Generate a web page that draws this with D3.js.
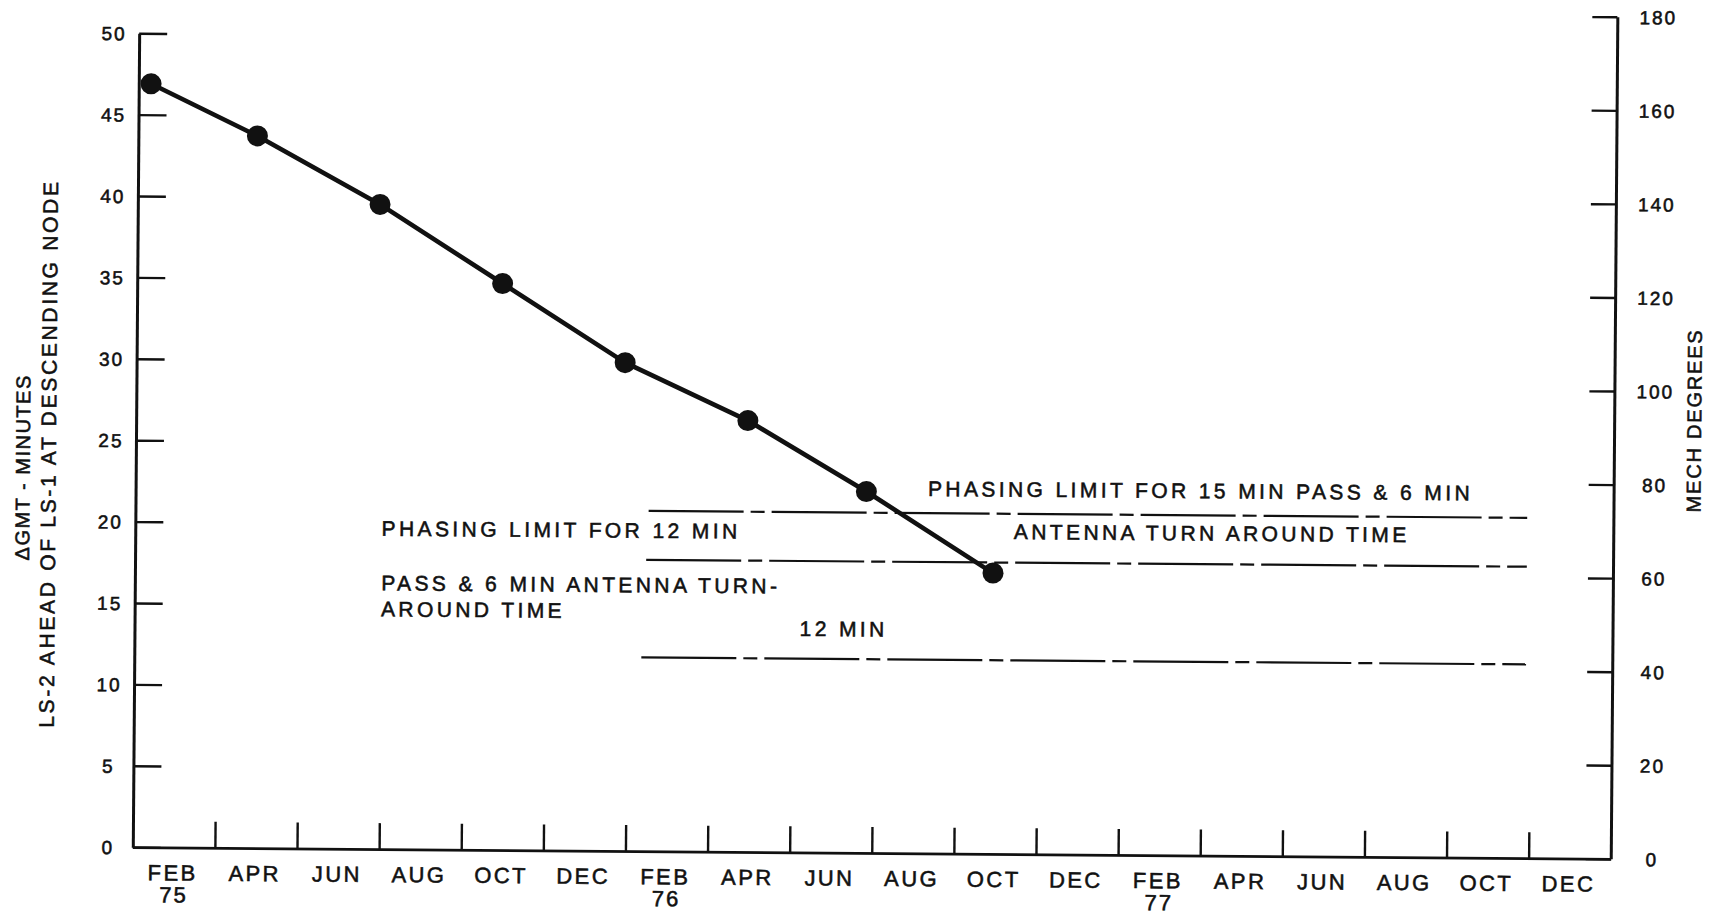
<!DOCTYPE html>
<html><head><meta charset="utf-8">
<script src="https://cdn.jsdelivr.net/npm/d3@7"></script>
<style>
body{margin:0;background:#fff}
text{font-family:"Liberation Sans",Arial,sans-serif;fill:#111;stroke:#111;stroke-width:0.55px}
</style>
</head><body>
<svg id="chart" width="1716" height="919"></svg>
<script>
// ---- data ----
const monthLabels = ["FEB","APR","JUN","AUG","OCT","DEC","FEB","APR","JUN","AUG","OCT","DEC","FEB","APR","JUN","AUG","OCT","DEC"];
const yearLabels  = ["75","","","","","","76","","","","","","77","","","","",""];
const pointMonths = [0.3, 2.9, 5.9, 8.9, 11.9, 14.9, 17.8, 20.9]; // months after 1 Feb 1975
const gmtMinutes  = [46.9, 43.75, 39.6, 34.8, 30.0, 26.5, 22.2, 17.25];
const limitMinutes = [20.9, 17.9, 11.9];
const limitStartMonth = [12.5, 12.45, 12.35];
const limitEndMonth = [33.9, 33.9, 33.9];
const leftTicks  = [0,5,10,15,20,25,30,35,40,45,50];
const rightTicks = [0,20,40,60,80,100,120,140,160,180];
const xTicks = [2,4,6,8,10,12,14,16,18,20,22,24,26,28,30,32,34];
const notes = [
  {t:"PHASING LIMIT FOR 15 MIN PASS & 6 MIN", m:19.3, v:22.4},
  {t:"ANTENNA TURN AROUND TIME", m:21.4, v:19.8},
  {t:"PHASING LIMIT FOR 12 MIN", m:6.0, v:19.7},
  {t:"PASS & 6 MIN ANTENNA TURN-", m:6.0, v:16.35},
  {t:"AROUND TIME", m:6.0, v:14.75},
  {t:"12 MIN", m:16.2, v:13.75}
];

const svg = d3.select("#chart");
const g = svg.append("g").attr("transform","rotate(0.45,875,440)");

const x  = d3.scaleLinear().domain([0,36]).range([136,1614]);
const yL = d3.scaleLinear().domain([0,50]).range([853,39]);
const yR = d3.scaleLinear().domain([0,180]).range([853,11]);

function styleAxis(sel, w){
  sel.select(".domain").attr("stroke","#111").attr("stroke-width",w);
  sel.selectAll(".tick line").attr("stroke","#111").attr("stroke-width",2.4);
}

// bottom axis
const bx = g.append("g").attr("transform",`translate(0,${yL(0)})`)
  .call(d3.axisBottom(x).tickValues(xTicks).tickSizeInner(-26).tickSizeOuter(0).tickFormat(""));
styleAxis(bx, 2.8);

// left axis
const ax = g.append("g").attr("transform",`translate(${x(0)},0)`)
  .call(d3.axisLeft(yL).tickValues(leftTicks).tickSizeInner(-28).tickSizeOuter(0).tickPadding(0));
styleAxis(ax, 3);
ax.selectAll(".tick text").attr("x",-25).attr("dy","0.35em").attr("text-anchor","middle")
  .attr("fill","#111").style("font-size","19px").style("letter-spacing","2px");

// right axis
const rx = g.append("g").attr("transform",`translate(${x(36)},0)`)
  .call(d3.axisRight(yR).tickValues(rightTicks).tickSizeInner(-25).tickSizeOuter(0).tickPadding(0));
styleAxis(rx, 3);
rx.selectAll(".tick text").attr("x",41).attr("dy","0.35em").attr("text-anchor","middle")
  .attr("fill","#111").style("font-size","19px").style("letter-spacing","2px");

// month labels
g.append("g").selectAll("text").data(monthLabels).join("text")
  .attr("x",(d,i)=>x(2*i+1)-1).attr("y",yL(0)+33)
  .attr("text-anchor","middle").style("font-size","22px").style("letter-spacing","2.4px")
  .text(d=>d);
g.append("g").selectAll("text").data(yearLabels).join("text")
  .attr("x",(d,i)=>x(2*i+1)).attr("y",yL(0)+55)
  .attr("text-anchor","middle").style("font-size","22px").style("letter-spacing","2px")
  .text(d=>d);

// limit lines
g.append("g").selectAll("line").data(limitMinutes).join("line")
  .attr("x1",(d,i)=>x(limitStartMonth[i])).attr("x2",(d,i)=>x(limitEndMonth[i]))
  .attr("y1",d=>yL(d)).attr("y2",d=>yL(d))
  .attr("stroke","#111").attr("stroke-width",2.2).attr("stroke-dasharray","95,7,14,7");

// data line
const pts = pointMonths.map((m,i)=>[m,gmtMinutes[i]]);
g.append("path").datum(pts)
  .attr("d",d3.line().x(d=>x(d[0])).y(d=>yL(d[1])))
  .attr("fill","none").attr("stroke","#111").attr("stroke-width",4.6).attr("stroke-linejoin","round");
g.append("g").selectAll("circle").data(pts).join("circle")
  .attr("cx",d=>x(d[0])).attr("cy",d=>yL(d[1])).attr("r",10.5).attr("fill","#111");

// annotations
g.append("g").selectAll("text").data(notes).join("text")
  .attr("x",d=>x(d.m)).attr("y",d=>yL(d.v)).attr("dy","0.35em")
  .style("font-size","21px").style("letter-spacing","3.4px").text(d=>d.t);

// axis titles
g.append("text").attr("transform","translate(30,474) rotate(-90)")
  .attr("text-anchor","middle").style("font-size","20px").style("letter-spacing","1.5px")
  .text("\u0394GMT - MINUTES");
g.append("text").attr("transform","translate(56,460) rotate(-90)")
  .attr("text-anchor","middle").style("font-size","21px").style("letter-spacing","2.7px")
  .text("LS-2 AHEAD OF LS-1 AT DESCENDING NODE");
g.append("text").attr("transform","translate(1701,414) rotate(-90)")
  .attr("text-anchor","middle").style("font-size","20px").style("letter-spacing","1.8px")
  .text("MECH DEGREES");
</script>
</body></html>
